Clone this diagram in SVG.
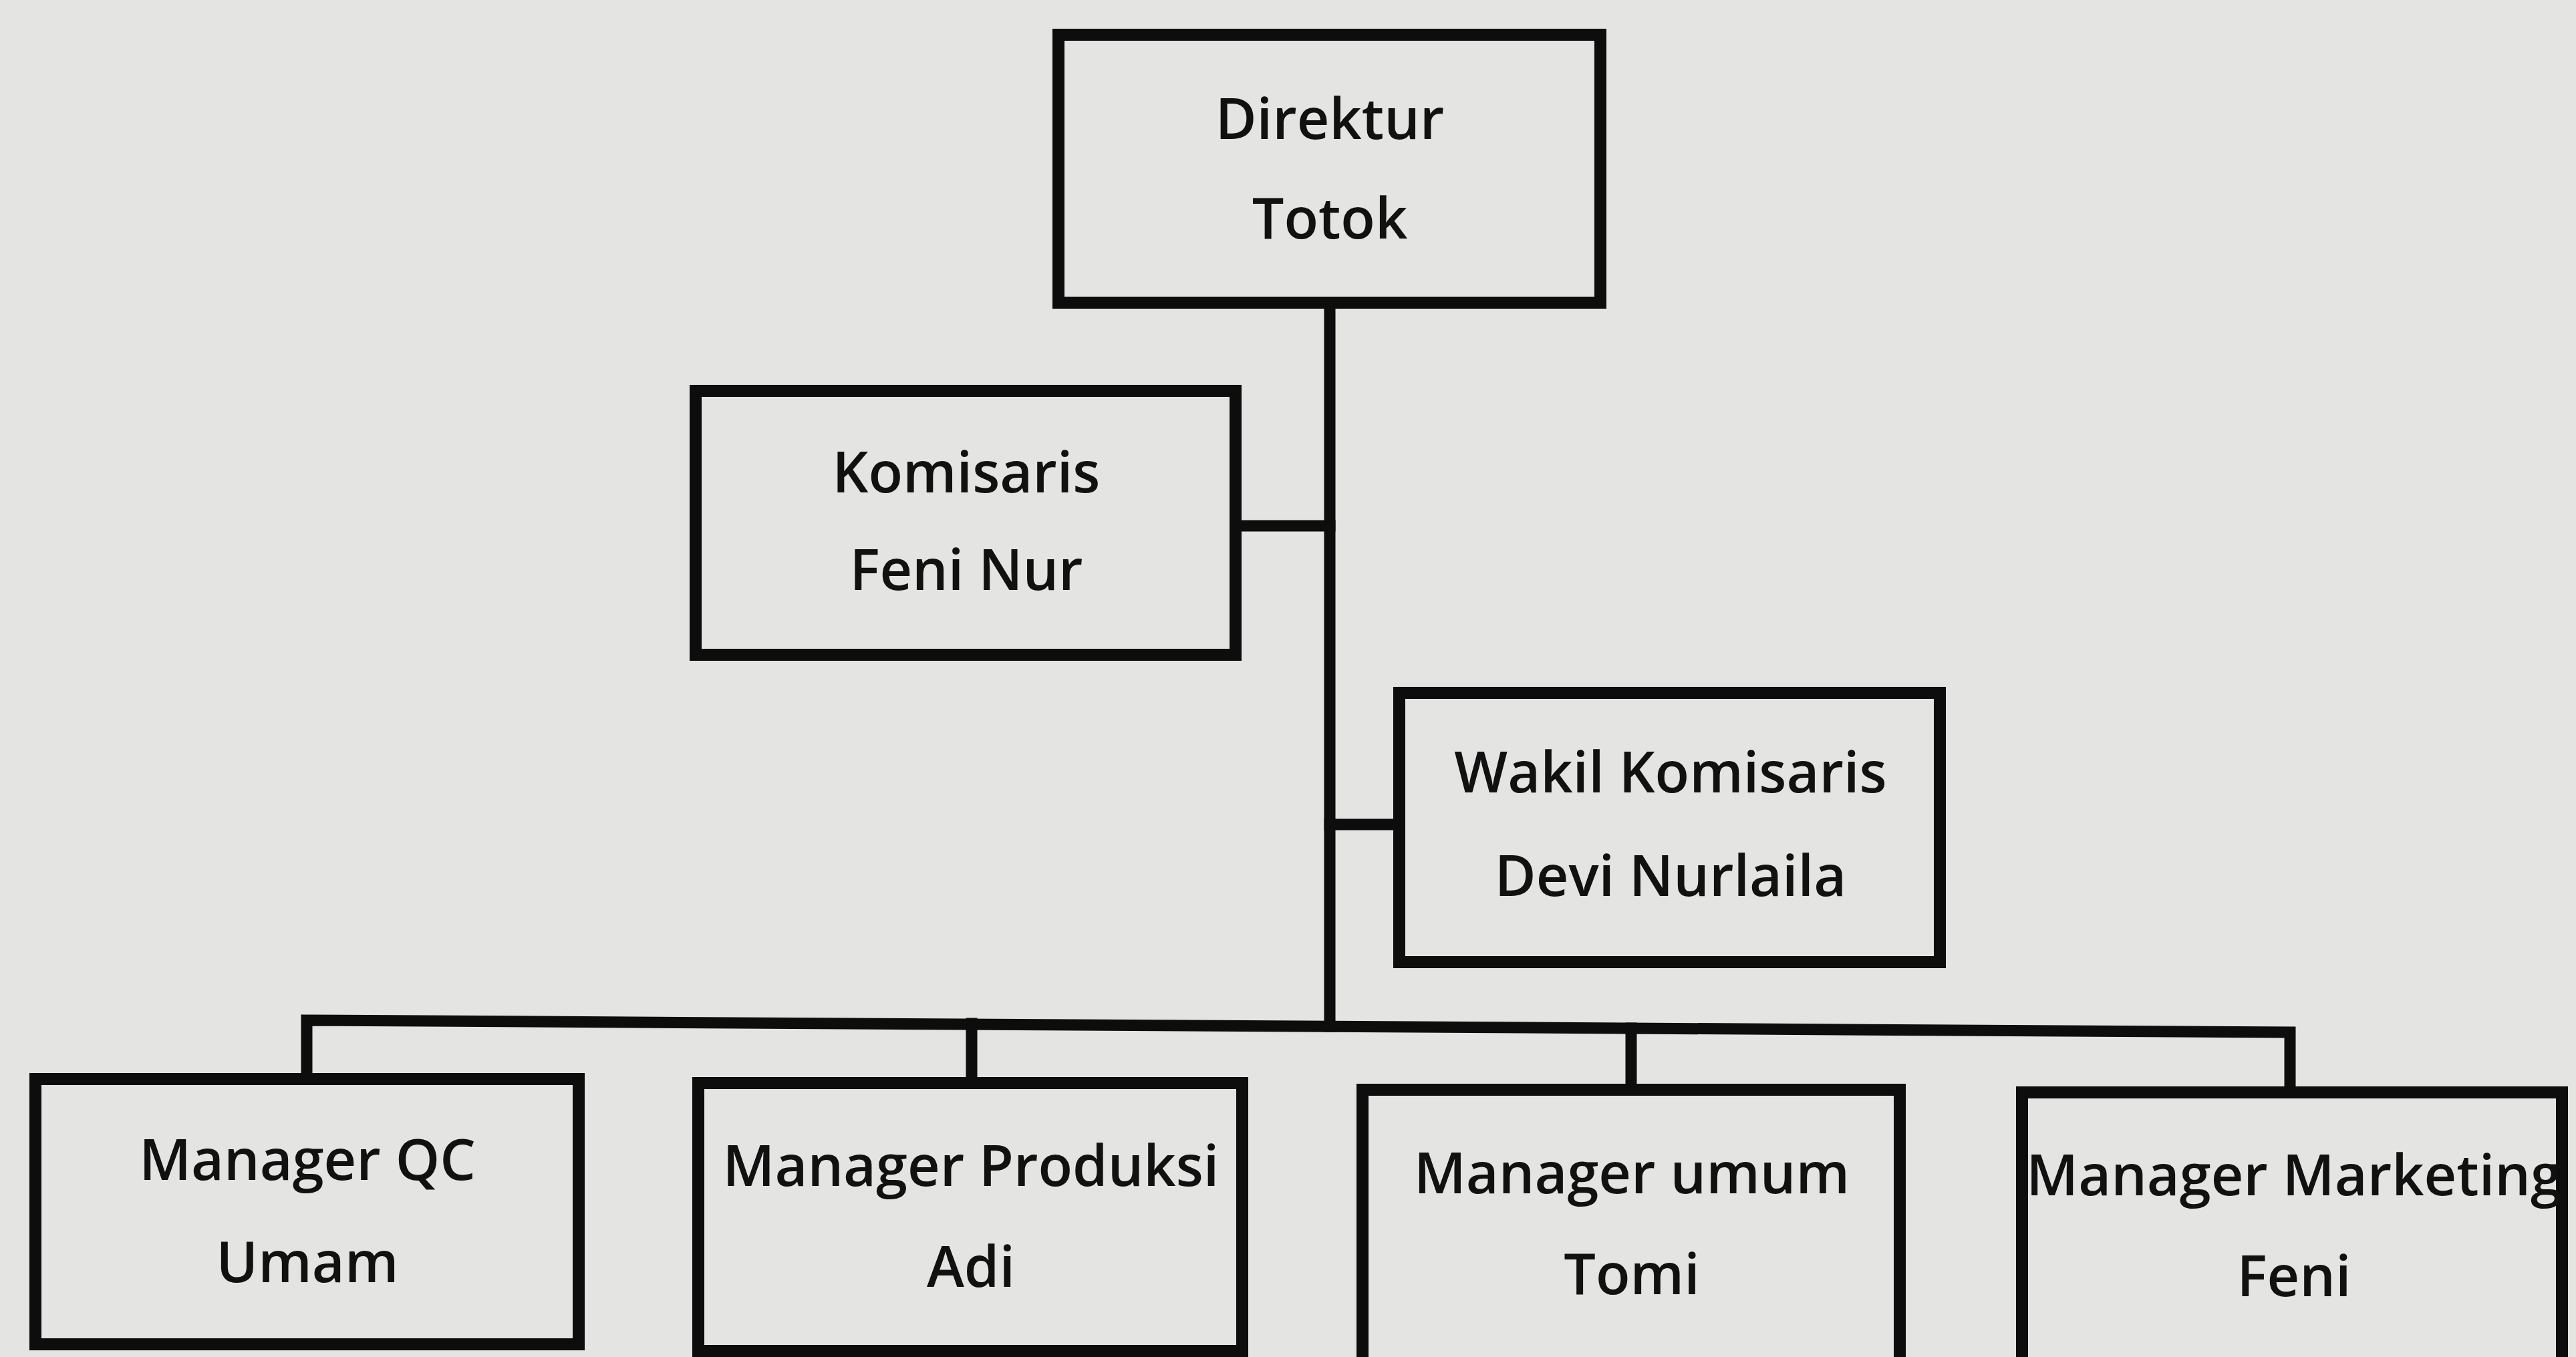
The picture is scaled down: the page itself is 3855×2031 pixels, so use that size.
<svg xmlns="http://www.w3.org/2000/svg" width="3855" height="2031" viewBox="0 0 3855 2031">
<style>
.box{fill:none;stroke:#0d0d0d;stroke-width:18;stroke-linejoin:miter}
.ln{fill:none;stroke:#0d0d0d;stroke-width:17;stroke-linecap:square;stroke-linejoin:miter}
.t{font-family:"Open Sans","Noto Sans","DejaVu Sans",sans-serif;font-size:84.5px;font-weight:600;fill:#111;text-anchor:middle}
</style>
<rect x="0" y="0" width="3855" height="2031" fill="#e4e4e2"/>
<g id="connectors">
<path class="ln" d="M1990,460 L1990,1536"/>
<path class="ln" d="M1858,787 L1990,787"/>
<path class="ln" d="M1990,1234 L2086,1234"/>
<path class="ln" d="M459,1606 L459,1527 L3427,1545 L3427,1627"/>
<path class="ln" d="M1454,1532 L1454,1612"/>
<path class="ln" d="M2441,1539 L2441,1622"/>
</g>
<g id="direktur">
<rect class="box" x="1584" y="52" width="811" height="401"/>
<text class="t" x="1990" y="208">Direktur</text>
<text class="t" x="1990" y="357">Totok</text>
</g>
<g id="komisaris">
<rect class="box" x="1041" y="585" width="808" height="395"/>
<text class="t" x="1446" y="737">Komisaris</text>
<text class="t" x="1446" y="883">Feni Nur</text>
</g>
<g id="wakil-komisaris">
<rect class="box" x="2094" y="1037" width="809" height="403"/>
<text class="t" x="2500" y="1186">Wakil Komisaris</text>
<text class="t" x="2500" y="1341">Devi Nurlaila</text>
</g>
<g id="manager-qc">
<rect class="box" x="53" y="1615" width="813" height="397"/>
<text class="t" x="460" y="1766">Manager QC</text>
<text class="t" x="460" y="1919">Umam</text>
</g>
<g id="manager-produksi">
<rect class="box" x="1045" y="1621" width="814" height="401"/>
<text class="t" x="1453" y="1775">Manager Produksi</text>
<text class="t" x="1453" y="1926">Adi</text>
</g>
<g id="manager-umum">
<rect class="box" x="2039" y="1631" width="804" height="430"/>
<text class="t" x="2442" y="1786">Manager umum</text>
<text class="t" x="2442" y="1937">Tomi</text>
</g>
<g id="manager-marketing">
<rect class="box" x="3026" y="1635" width="808" height="430"/>
<text class="t" x="3433" y="1789">Manager Marketing</text>
<text class="t" x="3433" y="1940">Feni</text>
</g>
</svg>
